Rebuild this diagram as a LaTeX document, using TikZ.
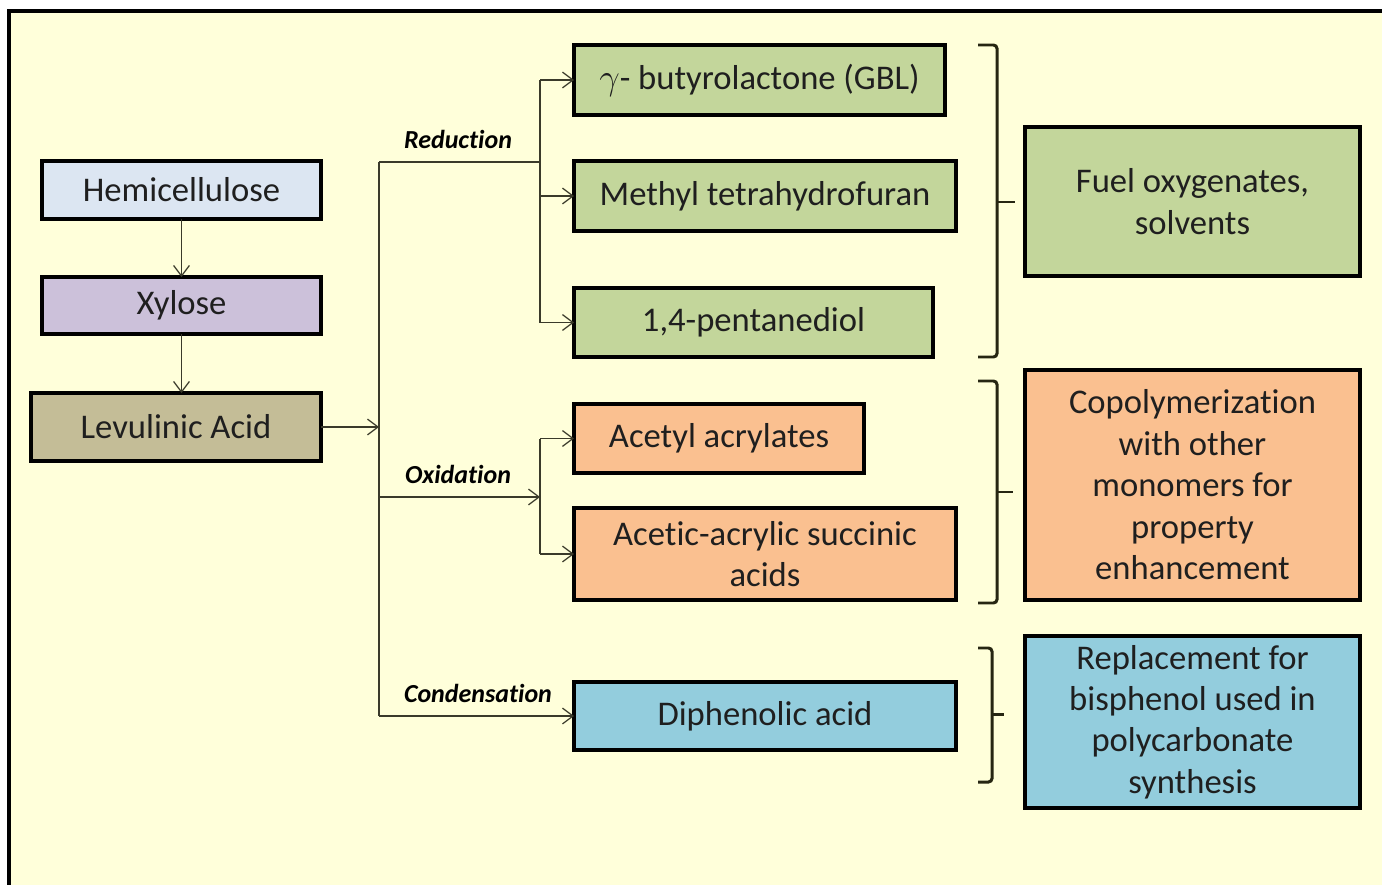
\documentclass[tikz,border=0pt]{standalone}
\usepackage{fontspec}
\setmainfont[Ligatures={NoCommon,NoDiscretionary}]{Carlito}
\usetikzlibrary{arrows.meta}
\definecolor{bgyel}{HTML}{FFFFDA}
\definecolor{hemi}{HTML}{DCE6F2}
\definecolor{xyl}{HTML}{CCC1DA}
\definecolor{levu}{HTML}{C4BD97}
\definecolor{grn}{HTML}{C3D69B}
\definecolor{org}{HTML}{FAC090}
\definecolor{blu}{HTML}{93CDDD}
\definecolor{txt}{HTML}{1F1F1F}
\definecolor{lne}{HTML}{3A3A2A}
\definecolor{brc}{HTML}{262612}
\tikzset{
  box/.style={draw=black, line width=1.8pt, inner sep=0pt, outer sep=0pt, align=center,
    text=txt, font=\fontsize{19.7}{23.6}\selectfont},
  conn/.style={draw=lne, line width=0.7pt},
  arr/.style={conn, -{Straight Barb[length=6pt,width=9pt,line width=0.7pt]}},
  lbl/.style={font=\fontsize{14.8}{17}\selectfont\bfseries\itshape, text=black, inner sep=0pt},
  brace/.style={draw=brc, line width=1.7pt, rounded corners=2pt}
}
\begin{document}
\begin{tikzpicture}[x=0.02cm, y=-0.02cm]
\useasboundingbox (0,0) rectangle (1382,885);
\fill[white] (0,0) rectangle (1382,885);
\fill[bgyel] (9,11) rectangle (1382,885);
\draw[line width=1.8pt, black] (9,885) -- (9,11) -- (1382,11);

% left column
\node[box, fill=hemi, minimum width=5.58cm, minimum height=1.16cm] (hemi) at (181.5,190) {Hemicellulose};
\node[box, fill=xyl, minimum width=5.58cm, minimum height=1.14cm] (xyl) at (181.5,305.5) {Xylose};
\node[box, fill=levu, minimum width=5.8cm, minimum height=1.36cm] (lev) at (176,427) {Levulinic Acid};

% products
\node[box, fill=grn, minimum width=7.42cm, minimum height=1.4cm] (gbl) at (759.5,80) {$\gamma$- butyrolactone (GBL)};
\node[box, fill=grn, minimum width=7.64cm, minimum height=1.4cm] (mthf) at (765,196) {Methyl tetrahydrofuran};
\node[box, fill=grn, minimum width=7.18cm, minimum height=1.38cm] (pd) at (753.5,322.5) {1,4-pentanediol};
\node[box, fill=org, minimum width=5.8cm, minimum height=1.38cm] (aa) at (719,438.5) {Acetyl acrylates};
\node[box, fill=org, minimum width=7.64cm, minimum height=1.84cm] (aas) at (765,554) {Acetic-acrylic succinic\\acids};
\node[box, fill=blu, minimum width=7.64cm, minimum height=1.36cm] (dip) at (765,716) {Diphenolic acid};

% applications
\node[box, fill=grn, minimum width=6.7cm, minimum height=2.98cm] (fuel) at (1192.5,201.5) {Fuel oxygenates,\\solvents};
\node[box, fill=org, minimum width=6.7cm, minimum height=4.6cm] (copo) at (1192.5,485) {Copolymerization\\with other\\monomers for\\property\\enhancement};
\node[box, fill=blu, minimum width=6.7cm, minimum height=3.44cm] (repl) at (1192.5,722) {Replacement for\\bisphenol used in\\polycarbonate\\synthesis};

% left arrows
\draw[arr] (hemi) -- (xyl);
\draw[arr] (xyl.south -| hemi.south) -- (lev.north -| hemi.south);

% trunk
\coordinate (ttop) at (379,162);
\coordinate (tbot) at (379,716);
\coordinate (jred) at (540,162);
\coordinate (jox) at (540,497);
\coordinate (tox) at (379,497);
\draw[conn] (ttop) -- (tbot);
\draw[arr] (lev.east) -- (lev.east -| ttop);

% reduction
\draw[conn] (ttop) -- (jred);
\draw[conn] (jred |- gbl.west) -- (jred |- pd.west);
\draw[arr] (jred |- gbl.west) -- (gbl.west);
\draw[arr] (jred |- mthf.west) -- (mthf.west);
\draw[arr] (jred |- pd.west) -- (pd.west);
\node[lbl] (lred) at (458,139) {Reduction};

% oxidation
\draw[arr] (tox) -- (jox);
\draw[conn] (jox |- aa.west) -- (jox |- aas.west);
\draw[arr] (jox |- aa.west) -- (aa.west);
\draw[arr] (jox |- aas.west) -- (aas.west);
\node[lbl] (lox) at (458,474) {Oxidation};

% condensation
\draw[arr] (tbot) -- (dip.west);
\node[lbl] (lcon) at (478,693) {Condensation};

% braces
\draw[brace] (978,45) -- (997,45) -- (997,357) -- (978,357);
\draw[brace] (996,202) -- (1015,202);
\draw[brace] (978,381) -- (997,381) -- (997,603) -- (978,603);
\draw[brace] (996,492) -- (1013,492);
\draw[brace] (978,648) -- (992,648) -- (992,782) -- (978,782);
\draw[brace] (991,714) -- (1004,714);
\end{tikzpicture}
\end{document}
